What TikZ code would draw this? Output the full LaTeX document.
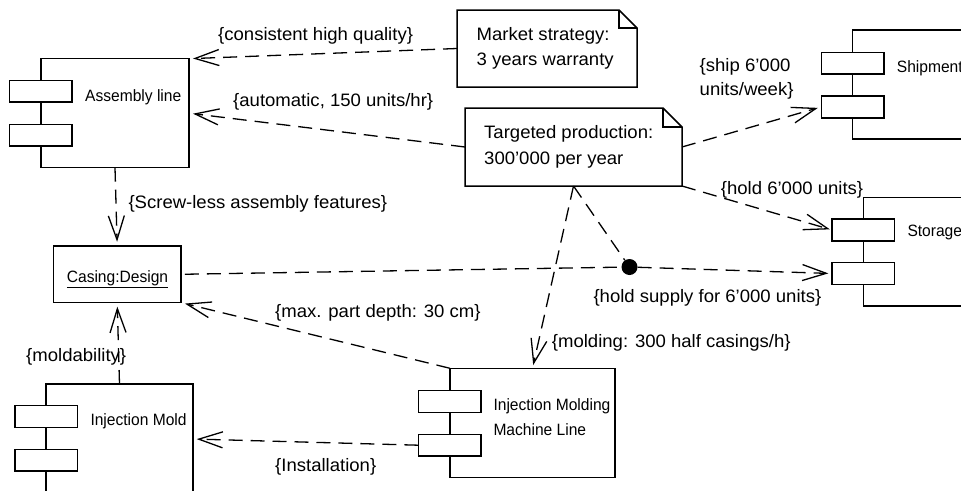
\documentclass[tikz,border=0pt]{standalone}
\usepackage{fontspec}
\setmainfont{Liberation Sans}
\newfontfamily\lblfamily{Liberation Sans}[FakeStretch=1.03]
\newfontfamily\compfamily{Liberation Sans}[FakeStretch=0.95]
\usetikzlibrary{arrows.meta,calc}

\newcommand\lblfont{\lblfamily\fontsize{18}{24.5}\selectfont}
\newcommand\compfont{\compfamily\fontsize{16.4}{24.3}\selectfont}

\tikzset{
  comp/.style={draw, line width=1.5pt, inner sep=0pt, outer sep=0pt},
  port/.style={draw, fill=white, line width=1.5pt, inner sep=0pt, outer sep=0pt,
               minimum width=62.5pt, minimum height=21.7pt},
  notebox/.style={inner sep=0pt, outer sep=0pt},
  noteline/.style={line width=1.5pt, line join=miter},
  dep/.style={line width=1.3pt, dash pattern=on 14pt off 8pt,
              -{Straight Barb[length=24pt,width=16pt]}},
  plain/.style={line width=1.3pt, dash pattern=on 14pt off 8pt},
  lbl/.style={font=\lblfont, inner sep=0pt, anchor=base west},
  ctext/.style={font=\compfont, inner sep=0pt, anchor=base west},
}

\begin{document}
\begin{tikzpicture}[x=1pt,y=-1pt]
\useasboundingbox (0,0) rectangle (961,490);
\clip (0,0) rectangle (961,490);

% ---- components ----
\node[comp, minimum width=148pt, minimum height=109pt] (asm) at (115,113.2) {};
\node[port] (asm1) at (40.5,91.2) {};
\node[port] (asm2) at (40.5,135.2) {};
\node[ctext] (asmt) at (85,101.7) {Assembly line};

\node[comp, minimum width=160pt, minimum height=109pt] (shp) at (932.5,84.5) {};
\node[port] (shp1) at (852.5,63.2) {};
\node[port] (shp2) at (852.5,106.9) {};
\node[ctext] (shpt) at (896.7,72.7) {Shipment};

\node[comp, minimum width=160pt, minimum height=108.7pt] (sto) at (943.5,251.7) {};
\node[port] (sto1) at (863,229.9) {};
\node[port] (sto2) at (863,273.5) {};
\node[ctext] (stot) at (907.3,236.3) {Storage};

\node[comp, minimum width=147pt, minimum height=110pt] (imold) at (119.5,439) {};
\node[port] (imold1) at (46.3,416.5) {};
\node[port] (imold2) at (46.3,460.2) {};
\node[ctext] (imoldt) at (90.3,425.7) {Injection Mold};

\node[comp, minimum width=165pt, minimum height=109.4pt] (imml) at (532.5,423) {};
\node[port] (imml1) at (449.7,401.5) {};
\node[port] (imml2) at (449.7,445.2) {};
\node[font=\compfont, inner sep=0pt, anchor=north west, align=left] (immlt) at (493.3,398.8)
  {Injection Molding\\Machine Line};

% ---- object ----
\node[comp, minimum width=127.7pt, minimum height=56.7pt] (cas) at (117.2,274.3) {};
\node[ctext, anchor=base] (cast) at (117.5,282.7) {\underline{Casing:Design}};

% ---- notes ----
\node[notebox, minimum width=180pt, minimum height=77pt] (mkt) at (547,48.5) {};
\draw[noteline] (mkt.south west) -- (mkt.north west) -- ([xshift=-18pt]mkt.north east)
  -- ([yshift=-18pt]mkt.north east) -- (mkt.south east) -- cycle;
\draw[noteline] ([xshift=-18pt]mkt.north east) |- ([yshift=-18pt]mkt.north east);
\node[font=\lblfont, inner sep=0pt, anchor=north west, align=left] (mktt) at (476.5,27.7)
  {Market strategy:\\3 years warranty};

\node[notebox, minimum width=217pt, minimum height=78pt] (tgt) at (573.5,147) {};
\draw[noteline] (tgt.south west) -- (tgt.north west) -- ([xshift=-19pt]tgt.north east)
  -- ([yshift=-19pt]tgt.north east) -- (tgt.south east) -- cycle;
\draw[noteline] ([xshift=-19pt]tgt.north east) |- ([yshift=-19pt]tgt.north east);
\node[font=\fontsize{18}{26.7}\lblfamily\selectfont, inner sep=0pt, anchor=north west, align=left]
  (tgtt) at (484,124.8) {Targeted production:\\300’000 per year};

% ---- junction ----
\node[circle, fill=black, minimum size=16pt, inner sep=0pt] (dot) at (629.5,267) {};

% ---- dependencies ----
\draw[dep, shorten >=4pt] (mkt.west) -- (asm.north east);
\draw[dep, shorten >=4pt] (tgt.west) -- (asm.east);
\draw[dep, shorten >=4.2pt] (asm.south) -- (cas.north);
\draw[dep, shorten >=3.5pt] (tgt.east) -- (shp2.west);
\draw[dep, shorten >=2pt] (tgt.south east) -- (sto1.west);
\draw[plain] (tgt.south) -- (dot);
\draw[dep, shorten >=3.3pt] (tgt.south) -- (imml.north);
\draw[plain, shorten <=3.8pt] (cas.east) -- (dot);
\draw[dep, shorten >=3.4pt] (dot) -- (sto2.west);
\draw[dep, shorten >=4pt] (imml.north west) -- (cas.south east);
\draw[dep, shorten >=3.7pt] (imml2.west) -- (imold.east);
\draw[dep, shorten >=4pt] (imold.north) -- (cas.south);

% ---- constraint labels ----
\node[lbl] (l1) at (218,40) {\{consistent high quality\}};
\node[lbl] (l2) at (233,106) {\{automatic, 150 units/hr\}};
\node[lbl] (l3) at (128.3,208.3) {\{Screw-less assembly features\}};
\node[font=\lblfont, inner sep=0pt, anchor=north west, align=left] (l4) at (699.5,58)
  {\{ship 6’000\\units/week\}};
\node[lbl] (l5) at (720.7,194) {\{hold 6’000 units\}};
\node[lbl] (l6) at (593.3,302.7) {\{hold supply for 6’000 units\}};
\node[lbl] (l7) at (551.7,347.3) {\{molding: 300 half casings/h\}};
\node[lbl] (l8) at (275,317.7) {\{max. part depth: 30 cm\}};
\node[lbl] (l9) at (275,471.7) {\{Installation\}};
\node[lbl] (l10) at (26,361.7) {\{moldability\}};
\end{tikzpicture}
\end{document}
